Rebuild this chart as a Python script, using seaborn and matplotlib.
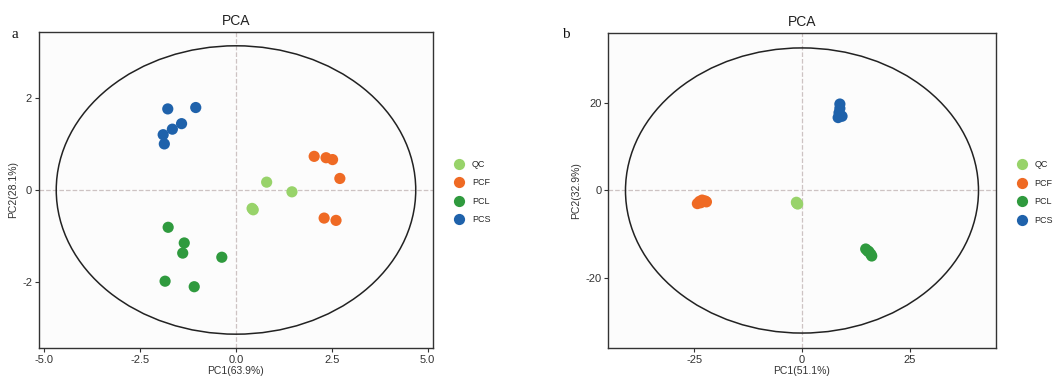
import pandas as pd
import matplotlib.pyplot as plt
import seaborn as sns
from matplotlib.patches import Ellipse

# Group order and colours
groups = ['QC', 'PCF', 'PCL', 'PCS']
palette = {'QC': '#98D36A', 'PCF': '#EF6A24', 'PCL': '#2F9A3E', 'PCS': '#1F62AB'}

# Panel a scores
a_qc_x = [0.80, 1.46, 0.45, 0.42]
a_qc_y = [0.17, -0.04, -0.43, -0.40]
a_pcf_x = [2.04, 2.35, 2.52, 2.71, 2.30, 2.61]
a_pcf_y = [0.73, 0.70, 0.66, 0.25, -0.61, -0.66]
a_pcl_x = [-1.77, -1.35, -1.39, -0.37, -1.85, -1.09]
a_pcl_y = [-0.81, -1.15, -1.37, -1.46, -1.98, -2.10]
a_pcs_x = [-1.78, -1.05, -1.42, -1.66, -1.90, -1.87]
a_pcs_y = [1.76, 1.79, 1.44, 1.32, 1.20, 1.00]

# Panel b scores
b_qc_x = [-1.2, -1.0, -1.3]
b_qc_y = [-2.9, -3.1, -2.7]
b_pcf_x = [-24.3, -23.8, -23.2, -22.5, -22.2, -23.5]
b_pcf_y = [-3.0, -2.5, -2.2, -2.4, -2.6, -2.8]
b_pcl_x = [14.8, 15.2, 15.6, 16.0, 16.2, 15.4]
b_pcl_y = [-13.4, -13.8, -14.1, -14.6, -15.0, -13.9]
b_pcs_x = [8.8, 8.8, 8.6, 8.9, 8.4, 9.3]
b_pcs_y = [19.8, 18.8, 17.8, 17.2, 16.7, 17.0]

def make_df(xs, ys):
    rows = []
    for g, x, y in zip(groups, xs, ys):
        rows += [{'PC1': a, 'PC2': b, 'group': g} for a, b in zip(x, y)]
    return pd.DataFrame(rows)

df_a = make_df([a_qc_x, a_pcf_x, a_pcl_x, a_pcs_x], [a_qc_y, a_pcf_y, a_pcl_y, a_pcs_y])
df_b = make_df([b_qc_x, b_pcf_x, b_pcl_x, b_pcs_x], [b_qc_y, b_pcf_y, b_pcl_y, b_pcs_y])

sns.set_style('white')
plt.rcParams['font.family'] = ['Liberation Sans', 'DejaVu Sans']

fig = plt.figure(figsize=(10.54, 3.78), dpi=100)
ax1 = fig.add_axes([0.037, 0.0794, 0.3738, 0.836])
ax2 = fig.add_axes([0.5771, 0.0802, 0.3676, 0.8317])

panels = [
    (ax1, df_a, (9.38, 6.26), (-5.14, 5.14), (-3.43, 3.43), [-5, -2.5, 0, 2.5, 5], [-2, 0, 2],
     ['-5.0', '-2.5', '0.0', '2.5', '5.0'], ['-2', '0', '2'], 'PC1(63.9%)', 'PC2(28.1%)', 'a', 0.011),
    (ax2, df_b, (82.0, 65.3), (-45, 45), (-36, 36), [-25, 0, 25], [-20, 0, 20],
     ['-25', '0', '25'], ['-20', '0', '20'], 'PC1(51.1%)', 'PC2(32.9%)', 'b', 0.533),
]

for ax, df, ell, xlim, ylim, xt, yt, xtl, ytl, xl, yl, tag, tag_x in panels:
    ax.set_facecolor('#FCFCFC')
    ax.axhline(0, color='#CDC3C3', ls='--', lw=0.9, zorder=0)
    ax.axvline(0, color='#CDC3C3', ls='--', lw=0.9, zorder=0)
    ax.add_patch(Ellipse((0, 0), ell[0], ell[1], fill=False, ec='#222222', lw=1.1))
    sns.scatterplot(data=df, x='PC1', y='PC2', hue='group', hue_order=groups,
                    palette=palette, s=65, edgecolor='none', ax=ax)
    ax.set_xlim(*xlim)
    ax.set_ylim(*ylim)
    ax.set_xticks(xt)
    ax.set_yticks(yt)
    ax.set_xticklabels(xtl)
    ax.set_yticklabels(ytl)
    ax.tick_params(axis='both', labelsize=8, colors='#333333', length=3, width=0.8,
                   direction='out', bottom=True, left=True, pad=2)
    for s in ax.spines.values():
        s.set_color('#333333')
        s.set_linewidth(1.0)
    ax.set_xlabel(xl, fontsize=7.5, color='#333333', labelpad=1)
    ax.set_ylabel(yl, fontsize=7.5, color='#333333', labelpad=3)
    ax.set_title('PCA', fontsize=10, color='#222222', pad=5)
    fig.text(tag_x, 0.90, tag, fontsize=11, family='Liberation Serif', color='#111111')
    ax.legend(loc='upper left', bbox_to_anchor=(1.035, 0.607), frameon=False, title=None,
              fontsize=6.5, handletextpad=0.4, labelspacing=1.05, markerscale=1.0,
              borderaxespad=0)

fig.savefig('out.png', dpi=100, facecolor='white')
